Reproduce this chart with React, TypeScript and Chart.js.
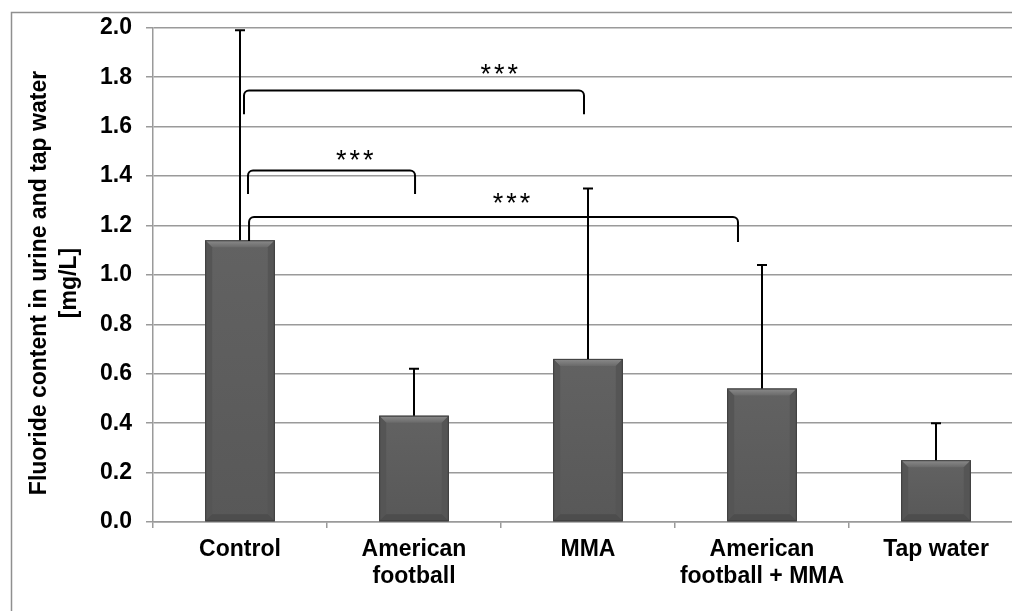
import React, { useEffect, useRef } from "react";
import { Chart, registerables } from "chart.js";

Chart.register(...registerables);

const categories: (string | string[])[] = [
  "Control",
  ["American", "football"],
  "MMA",
  ["American", "football + MMA"],
  "Tap water",
];
const means = [1.14, 0.43, 0.66, 0.54, 0.25];
const errorTops = [1.99, 0.62, 1.35, 1.04, 0.4];

// significance brackets: [xStart, xEnd] in category-index units, top value, left/right leg bottoms
const bracketX: [number, number][] = [
  [0.023, 1.977],
  [0.046, 1.006],
  [0.052, 2.862],
];
const bracketTop = [1.746, 1.423, 1.234];
const bracketLegs: [number, number][] = [
  [1.65, 1.65],
  [1.327, 1.327],
  [1.137, 1.133],
];
const starText = ["***", "***", "***"];
const starX = [1.49, 0.66, 1.56];
const starY = [1.835, 1.484, 1.31];

const yTitle = ["Fluoride content in urine and tap water", "[mg/L]"];

const FONT = "'Liberation Sans', Arial, sans-serif";
const GRID = "#9a9a9a";
const FS = 23;

const framePlugin = {
  id: "frame",
  beforeDraw(chart: any) {
    const ctx = chart.ctx;
    ctx.save();
    ctx.fillStyle = "#ffffff";
    ctx.fillRect(0, 0, chart.width, chart.height);
    ctx.strokeStyle = "#8f8f8f";
    ctx.lineWidth = 1.5;
    ctx.strokeRect(11.5, 12.5, chart.width + 40, chart.height + 40);
    ctx.restore();
  },
  afterDraw(chart: any) {
    const ctx = chart.ctx;
    ctx.save();
    ctx.fillStyle = "#000";
    ctx.font = `bold ${FS}px ${FONT}`;
    ctx.textAlign = "center";
    ctx.textBaseline = "middle";
    const cy = 283;
    const xs = [40, 70];
    yTitle.forEach((t, i) => {
      ctx.save();
      ctx.translate(xs[i], cy);
      ctx.rotate(-Math.PI / 2);
      ctx.fillText(t, 0, 0);
      ctx.restore();
    });
    ctx.restore();
  },
};

const decorPlugin = {
  id: "decor",
  afterDatasetsDraw(chart: any) {
    const ctx = chart.ctx;
    const xs = chart.scales.x;
    const ys = chart.scales.y;
    const meta = chart.getDatasetMeta(0);
    ctx.save();
    // bevel effect on bars
    meta.data.forEach((el: any) => {
      const p = el.getProps(["x", "y", "base", "width"], true);
      const l = p.x - p.width / 2;
      const r = p.x + p.width / 2;
      const t = p.y;
      const b = p.base;
      const bv = 7;
      const body = ctx.createLinearGradient(0, t, 0, b);
      body.addColorStop(0, "#626262");
      body.addColorStop(1, "#585858");
      ctx.fillStyle = body;
      ctx.fillRect(l, t, r - l, b - t);
      const topG = ctx.createLinearGradient(0, t, 0, t + bv);
      topG.addColorStop(0, "#8c8c8c");
      topG.addColorStop(1, "#6a6a6a");
      ctx.fillStyle = topG;
      ctx.beginPath();
      ctx.moveTo(l, t);
      ctx.lineTo(r, t);
      ctx.lineTo(r - bv, t + bv);
      ctx.lineTo(l + bv, t + bv);
      ctx.closePath();
      ctx.fill();
      ctx.fillStyle = "#555555";
      ctx.beginPath();
      ctx.moveTo(l, t);
      ctx.lineTo(l + bv, t + bv);
      ctx.lineTo(l + bv, b - bv);
      ctx.lineTo(l, b);
      ctx.closePath();
      ctx.fill();
      ctx.beginPath();
      ctx.moveTo(r, t);
      ctx.lineTo(r - bv, t + bv);
      ctx.lineTo(r - bv, b - bv);
      ctx.lineTo(r, b);
      ctx.closePath();
      ctx.fill();
      ctx.fillStyle = "#4d4d4d";
      ctx.beginPath();
      ctx.moveTo(l, b);
      ctx.lineTo(l + bv, b - bv);
      ctx.lineTo(r - bv, b - bv);
      ctx.lineTo(r, b);
      ctx.closePath();
      ctx.fill();
      ctx.strokeStyle = "#3e3e3e";
      ctx.lineWidth = 1;
      ctx.strokeRect(l + 0.5, t + 0.5, r - l - 1, b - t - 1);
    });
    // error bars
    ctx.strokeStyle = "#000";
    ctx.lineWidth = 2;
    meta.data.forEach((el: any, i: number) => {
      const p = el.getProps(["x", "y"], true);
      const yt = ys.getPixelForValue(errorTops[i]);
      ctx.beginPath();
      ctx.moveTo(p.x, p.y);
      ctx.lineTo(p.x, yt);
      ctx.moveTo(p.x - 5, yt);
      ctx.lineTo(p.x + 5, yt);
      ctx.stroke();
    });
    // brackets
    const rad = 5;
    bracketX.forEach(([a, bb], i) => {
      const x1 = xs.getPixelForValue(a);
      const x2 = xs.getPixelForValue(bb);
      const yt = ys.getPixelForValue(bracketTop[i]);
      const yl = ys.getPixelForValue(bracketLegs[i][0]);
      const yr = ys.getPixelForValue(bracketLegs[i][1]);
      ctx.beginPath();
      ctx.moveTo(x1, yl);
      ctx.lineTo(x1, yt + rad);
      ctx.arcTo(x1, yt, x1 + rad, yt, rad);
      ctx.lineTo(x2 - rad, yt);
      ctx.arcTo(x2, yt, x2, yt + rad, rad);
      ctx.lineTo(x2, yr);
      ctx.stroke();
    });
    const ss = 27;
    const ls = 3;
    ctx.fillStyle = "#000";
    ctx.font = `${ss}px ${FONT}`;
    try {
      (ctx as any).letterSpacing = `${ls}px`;
    } catch (e) {}
    ctx.textAlign = "center";
    ctx.textBaseline = "alphabetic";
    starText.forEach((s, i) => {
      const m = ctx.measureText(s);
      const asc = m.actualBoundingBoxAscent;
      const desc = m.actualBoundingBoxDescent;
      const cy = ys.getPixelForValue(starY[i]);
      const baseY = cy + (asc - desc) / 2;
      ctx.fillText(s, xs.getPixelForValue(starX[i]) + ls / 2, baseY);
    });
    ctx.restore();
  },
};

export default function App() {
  const ref = useRef<HTMLCanvasElement | null>(null);
  useEffect(() => {
    if (!ref.current) return;
    const chart = new Chart(ref.current, {
      type: "bar",
      data: {
        labels: categories,
        datasets: [
          {
            data: means,
            backgroundColor: "#5a5a5a",
            borderWidth: 0,
            barPercentage: 0.4,
            categoryPercentage: 1,
          },
        ],
      },
      options: {
        responsive: false,
        animation: false,
        devicePixelRatio: 1,
        layout: { padding: { left: 0, top: 26, right: 7, bottom: 0 } },
        plugins: {
          legend: { display: false },
          tooltip: { enabled: false },
          title: { display: false },
        },
        scales: {
          x: {
            offset: true,
            grid: {
              offset: true,
              display: true,
              drawOnChartArea: false,
              drawTicks: true,
              tickLength: 6,
              color: GRID,
              lineWidth: 1.5,
            },
            border: { display: true, color: GRID, width: 1.5 },
            ticks: {
              color: "#000",
              font: { family: FONT, size: FS, weight: "bold", lineHeight: 1.17 },
              padding: 8,
              maxRotation: 0,
              autoSkip: false,
            },
            afterFit(scale: any) {
              scale.height = 89;
            },
          },
          y: {
            min: 0,
            max: 2,
            grid: {
              color: GRID,
              lineWidth: 1.5,
              drawTicks: true,
              tickLength: 7,
            },
            border: { display: true, color: GRID, width: 1.5 },
            ticks: {
              stepSize: 0.2,
              color: "#000",
              font: { family: FONT, size: FS, weight: "bold" },
              padding: 14,
              callback: (v: any) => Number(v).toFixed(1),
            },
            afterFit(scale: any) {
              scale.width = 153;
            },
          },
        },
      },
      plugins: [framePlugin, decorPlugin],
    });
    return () => chart.destroy();
  }, []);
  return (
    <div
      style={{
        position: "absolute",
        left: 0,
        top: 0,
        width: 1012,
        height: 611,
        overflow: "hidden",
        background: "#fff",
      }}
    >
      <canvas ref={ref} width={1030} height={611} style={{ display: "block" }} />
    </div>
  );
}
